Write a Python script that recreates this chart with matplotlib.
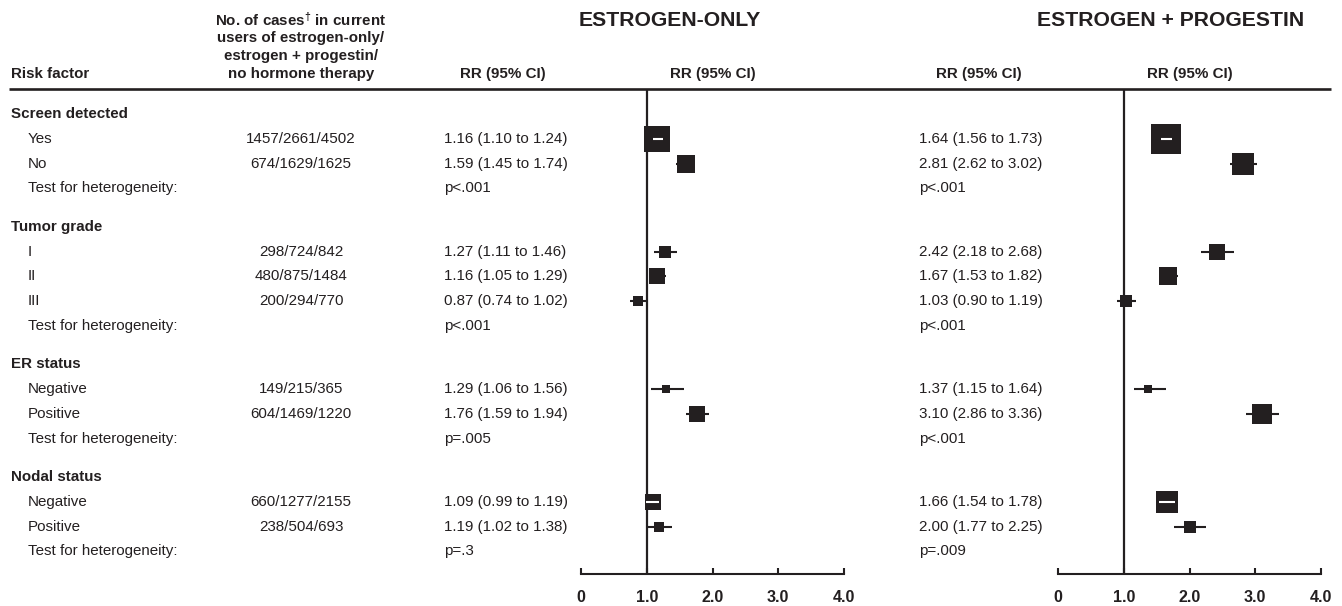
import numpy as np
import matplotlib
matplotlib.use("Agg")
import matplotlib.pyplot as plt

plt.rcParams['font.family'] = ['Liberation Sans', 'DejaVu Sans']
plt.rcParams['mathtext.fontset'] = 'custom'
plt.rcParams['mathtext.rm'] = 'Liberation Sans:bold'
plt.rcParams['mathtext.bf'] = 'Liberation Sans:bold'
plt.rcParams['mathtext.default'] = 'bf'

# ---------------- data ----------------
groups = ["Screen detected", "Tumor grade", "ER status", "Nodal status"]
items = [["Yes", "No"], ["I", "II", "III"], ["Negative", "Positive"], ["Negative", "Positive"]]
cases = [["1457/2661/4502", "674/1629/1625"],
         ["298/724/842", "480/875/1484", "200/294/770"],
         ["149/215/365", "604/1469/1220"],
         ["660/1277/2155", "238/504/693"]]
eo_rr = [[1.16, 1.59], [1.27, 1.16, 0.87], [1.29, 1.76], [1.09, 1.19]]
eo_lo = [[1.10, 1.45], [1.11, 1.05, 0.74], [1.06, 1.59], [0.99, 1.02]]
eo_hi = [[1.24, 1.74], [1.46, 1.29, 1.02], [1.56, 1.94], [1.19, 1.38]]
ep_rr = [[1.64, 2.81], [2.42, 1.67, 1.03], [1.37, 3.10], [1.66, 2.00]]
ep_lo = [[1.56, 2.62], [2.18, 1.53, 0.90], [1.15, 2.86], [1.54, 1.77]]
ep_hi = [[1.73, 3.02], [2.68, 1.82, 1.19], [1.64, 3.36], [1.78, 2.25]]
eo_p = ["p<.001", "p<.001", "p=.005", "p=.3"]
ep_p = ["p<.001", "p<.001", "p<.001", "p=.009"]
xticks = [0, 1, 2, 3, 4]
xticklabels = ["0", "1.0", "2.0", "3.0", "4.0"]
test_label = "Test for heterogeneity:"

# ---------------- layout ----------------
W, H = 1342, 606
INK = '#231f20'
Y0, STEP, GAP = 114.0, 24.78, 0.55
def yu(px):
    return (px - Y0) / STEP

fig = plt.figure(figsize=(W / 100, H / 100), dpi=100)
bg = fig.add_axes([0, 0, 1, 1])
bg.set_xlim(0, W)
bg.set_ylim(yu(H), yu(0))
bg.axis('off')

FS = 10.9
X_GROUP, X_ITEM, X_CASES, X_RR1, X_RR2 = 11, 28, 301, 444, 919

# header
hdr_lines = [r"No. of cases$^{\dagger}$ in current", "users of estrogen-only/",
             "estrogen + progestin/", "no hormone therapy"]
for i, t in enumerate(hdr_lines):
    bg.text(X_CASES, yu(20 + 18 * i), t, ha='center', va='center', fontsize=FS,
            fontweight='bold', color=INK)
bg.text(X_GROUP, yu(74), "Risk factor", ha='left', va='center', fontsize=FS,
        fontweight='bold', color=INK)
for xc in [503, 713, 979, 1190]:
    bg.text(xc, yu(74), "RR (95% CI)", ha='center', va='center', fontsize=FS,
            fontweight='bold', color=INK)
bg.text(670, yu(20), "ESTROGEN-ONLY", ha='center', va='center', fontsize=15.2,
        fontweight='bold', color=INK)
bg.text(1171, yu(20), "ESTROGEN + PROGESTIN", ha='center', va='center', fontsize=15.2,
        fontweight='bold', color=INK)
bg.plot([9, 1331], [yu(89.5)] * 2, color=INK, lw=1.9, solid_capstyle='butt')

# rows
rows = []  # (y, rr, lo, hi) per panel
y = 0.0
for g in range(len(groups)):
    bg.text(X_GROUP, y, groups[g], ha='left', va='center', fontsize=FS,
            fontweight='bold', color=INK)
    y += 1
    for k in range(len(items[g])):
        bg.text(X_ITEM, y, items[g][k], ha='left', va='center', fontsize=FS, color=INK)
        bg.text(X_CASES, y, cases[g][k], ha='center', va='center', fontsize=FS, color=INK)
        bg.text(X_RR1, y, f"{eo_rr[g][k]:.2f} ({eo_lo[g][k]:.2f} to {eo_hi[g][k]:.2f})",
                ha='left', va='center', fontsize=FS, color=INK)
        bg.text(X_RR2, y, f"{ep_rr[g][k]:.2f} ({ep_lo[g][k]:.2f} to {ep_hi[g][k]:.2f})",
                ha='left', va='center', fontsize=FS, color=INK)
        rows.append((y, eo_rr[g][k], eo_lo[g][k], eo_hi[g][k],
                     ep_rr[g][k], ep_lo[g][k], ep_hi[g][k]))
        y += 1
    bg.text(X_ITEM, y, test_label, ha='left', va='center', fontsize=FS, color=INK)
    bg.text(X_RR1, y, eo_p[g], ha='left', va='center', fontsize=FS, color=INK)
    bg.text(X_RR2, y, ep_p[g], ha='left', va='center', fontsize=FS, color=INK)
    y += 1 + GAP

AXIS_Y = yu(574)
PX_PER_UNIT = (844 - 581) / 4.0
BOX_K = 3.1  # box side (px) = BOX_K / ln(hi/lo)

def panel(x0, x1, idx):
    ax = fig.add_axes([x0 / W, 0, (x1 - x0) / W, 1])
    ax.set_xlim(0, 4)
    ax.set_ylim(yu(H), yu(0))
    ax.patch.set_alpha(0)
    for s in ['top', 'left', 'right']:
        ax.spines[s].set_visible(False)
    ax.spines['bottom'].set_position(('data', AXIS_Y))
    ax.spines['bottom'].set_linewidth(1.5)
    ax.spines['bottom'].set_color(INK)
    ax.set_yticks([])
    ax.set_xticks(xticks)
    ax.set_xticklabels(xticklabels, fontweight='bold', fontsize=11.6, color=INK)
    ax.tick_params(axis='x', direction='in', length=4, width=1.5, color=INK, pad=11.5)
    ax.plot([1, 1], [yu(89.5), AXIS_Y], color=INK, lw=1.6, solid_capstyle='butt')
    for r in rows:
        yy = r[0]
        rr, lo, hi = r[1 + 3 * idx], r[2 + 3 * idx], r[3 + 3 * idx]
        side_px = BOX_K / np.log(hi / lo)
        half = side_px / 2 / PX_PER_UNIT
        ax.plot([lo, hi], [yy, yy], color=INK, lw=1.5, solid_capstyle='butt')
        ax.plot([rr], [yy], marker='s', markersize=side_px * 0.72, color=INK,
                markeredgewidth=0, linestyle='none')
        if lo > rr - half and hi < rr + half:
            ax.plot([lo, hi], [yy, yy], color='white', lw=1.5, solid_capstyle='butt')
    for lab in ax.get_xticklabels():
        lab.set_clip_on(False)
    return ax

panel(581, 844, 0)
panel(1058, 1321, 1)

fig.savefig("out.png", dpi=100)
